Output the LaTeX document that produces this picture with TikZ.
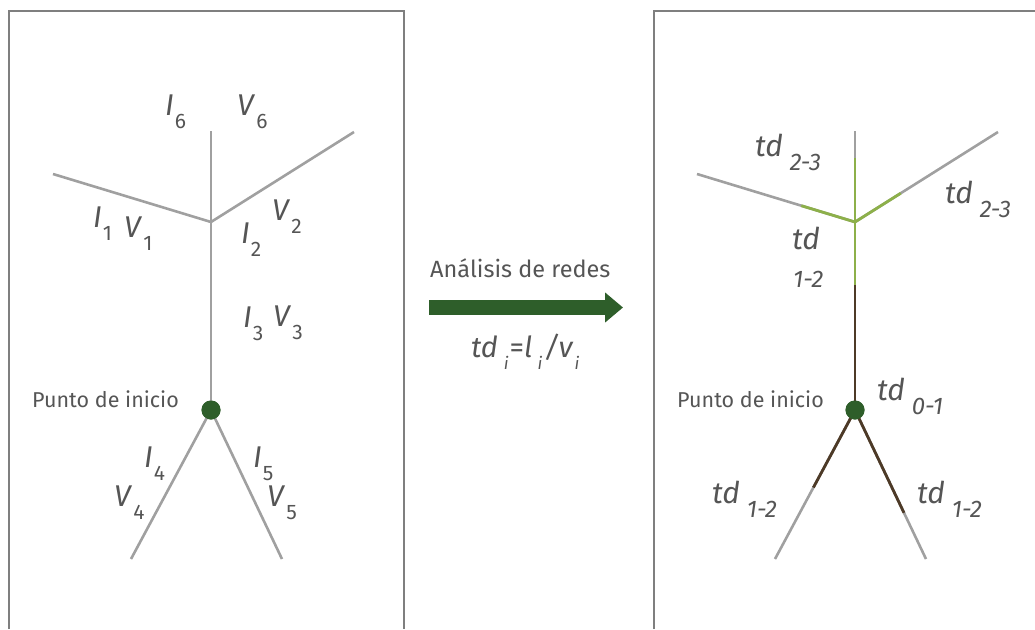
\documentclass[tikz,border=0pt]{standalone}
\usepackage{fontspec}
\setmainfont{Fira Sans}
\usetikzlibrary{positioning,arrows.meta,calc}
\definecolor{darkgreen}{HTML}{2E5E2A}
\definecolor{leafgreen}{HTML}{8DB04A}
\definecolor{bark}{HTML}{4D3A27}
\definecolor{twig}{HTML}{A0A0A0}
\definecolor{txt}{HTML}{555555}
\definecolor{framegray}{HTML}{7F7F7F}

% letter with a low upright index (left panel)
\newcommand{\lv}[2]{\textit{#1}\kern1pt\raisebox{-13pt}{\fontsize{21}{24}\selectfont #2}}
% td with a low italic index (right panel)
\newcommand{\tdl}[1]{\textit{td}\kern7pt\raisebox{-14pt}{\fontsize{24}{28}\selectfont\itshape #1}}
\newcommand{\ix}{\raisebox{-12pt}{\fontsize{17}{20}\selectfont\itshape i}}

\begin{document}
\begin{tikzpicture}[x=1pt, y=-1pt,
    lab/.style={anchor=base west, inner sep=0pt, text=txt, font=\fontsize{30}{35}\selectfont},
    note/.style={anchor=base west, inner sep=0pt, text=txt, font=\fontsize{21.5}{25}\selectfont},
    panel/.style={draw=framegray, line width=1.5pt},
    branch/.style={twig, line width=2.6pt},
    leaf/.style={leafgreen, line width=2.8pt},
    stem/.style={bark, line width=2.8pt},
    dot/.style={circle, fill=darkgreen, minimum size=19pt, inner sep=0pt},
    bigarrow/.style={darkgreen, line width=15.5pt, -{Triangle[length=18pt, width=29pt]}}
  ]
    \useasboundingbox (0,0) rectangle (1035,629);

    % panels
    \draw[panel] (9,629) |- (404,11) -- (404,629);
    \draw[panel] (654,629) |- (1035,11);

    % left network
    \coordinate (top1) at (211,131);
    \coordinate (j1) at (211,222);
    \coordinate (l1) at (53,174);
    \coordinate (r1) at (354,132);
    \coordinate (ll1) at (131,559);
    \coordinate (lr1) at (282,559);
    \node[dot] (p1) at (211,410) {};

    \draw[branch] (j1) -- (top1);
    \draw[branch] (j1) -- (l1);
    \draw[branch] (j1) -- (r1);
    \draw[branch] (j1) -- (p1.center);
    \draw[branch] (p1.center) -- (ll1);
    \draw[branch] (p1.center) -- (lr1);
    \node[dot] at (p1) {};

    \node[lab] (i6) at (165,115) {\lv{I}{6}};
    \node[lab] (v6) at (237,115) {\lv{V}{6}};
    \node[lab] (i1) at (93,227) {\lv{I}{1}};
    \node[lab] (v1) at (124,237) {\lv{V}{1}};
    \node[lab] (i2) at (241,243) {\lv{I}{2}};
    \node[lab] (v2) at (272,220) {\lv{V}{2}};
    \node[lab] (i3) at (243,327) {\lv{I}{3}};
    \node[lab] (v3) at (273,326) {\lv{V}{3}};
    \node[lab] (i4) at (144,467) {\lv{I}{4}};
    \node[lab] (v4) at (114,506) {\lv{V}{4}};
    \node[lab] (i5) at (253,467) {\lv{I}{5}};
    \node[lab] (v5) at (267,506) {\lv{V}{5}};
    \node[note] (start1) at (32,407) {Punto de inicio};

    % middle arrow
    \coordinate (a0) at (429,307.5);
    \coordinate (a1) at (623,307.5);
    \draw[bigarrow] (a0) -- (a1);
    \node[note, font=\fontsize{23.5}{28}\selectfont] (method) at (430,277) {Análisis de redes};
    \node[lab, font=\fontsize{29}{34}\selectfont] (rule) at (471,357)
      {\textit{td}\kern6pt\ix\kern1pt=\textit{l}\kern5pt\ix\kern2pt\textit{/v}\kern1pt\ix};

    % right network
    \coordinate (top2) at (855,131);
    \coordinate (j2) at (855,222);
    \coordinate (l2) at (697,174);
    \coordinate (r2) at (998,132);
    \coordinate (ll2) at (775,559);
    \coordinate (lr2) at (926,559);
    \node[dot] (p2) at (855,410) {};

    \draw[branch] (j2) -- (top2);
    \draw[branch] (j2) -- (l2);
    \draw[branch] (j2) -- (r2);
    \draw[branch] (p2.center) -- (ll2);
    \draw[branch] (p2.center) -- (lr2);

    \draw[leaf] (j2) -- ($(j2)!0.70!(top2)$);
    \draw[leaf] (j2) -- ($(j2)!0.34!(l2)$);
    \draw[leaf] (j2) -- ($(j2)!0.32!(r2)$);
    \draw[leaf] (j2) -- ($(j2)!0.335!(p2)$);
    \draw[stem] ($(j2)!0.335!(p2)$) -- (p2.center);
    \draw[stem] (p2.center) -- ($(p2)!0.52!(ll2)$);
    \draw[stem] (p2.center) -- ($(p2)!0.69!(lr2)$);
    \node[dot] at (p2) {};

    \node[lab] (td23a) at (755,156) {\tdl{2-3}};
    \node[lab] (td23b) at (945,203) {\tdl{2-3}};
    \node[lab] (td12a) at (792,249) {\textit{td}};
    \node[lab, font=\fontsize{24}{28}\selectfont\itshape] (td12ai) at (793,287) {1-2};
    \node[lab] (td01) at (877,400) {\tdl{0-1}};
    \node[lab] (td12b) at (712,503) {\tdl{1-2}};
    \node[lab] (td12c) at (917,503) {\tdl{1-2}};
    \node[note] (start2) at (677,407) {Punto de inicio};
  \end{tikzpicture}
\end{document}
